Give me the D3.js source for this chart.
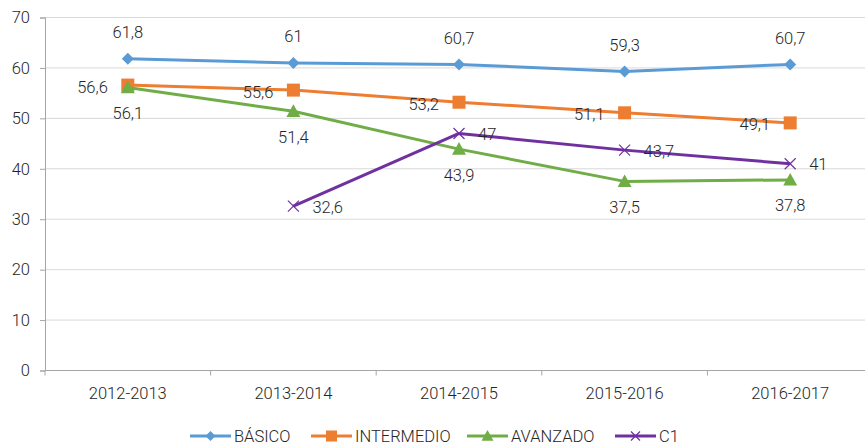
<!DOCTYPE html>
<html>
<head>
<meta charset="utf-8">
<script src="https://cdn.jsdelivr.net/npm/d3@7"></script>
<style>
  html, body { margin: 0; padding: 0; background: #fff; }
  text { font-family: "Roboto", "Open Sans", sans-serif; font-weight: 300; fill: #262626; }
</style>
</head>
<body>
<svg id="chart" width="865" height="445"></svg>
<script>
// Course years and results per level
const categories = ["2012-2013", "2013-2014", "2014-2015", "2015-2016", "2016-2017"];
const basico     = [61.8, 61, 60.7, 59.3, 60.7];
const intermedio = [56.6, 55.6, 53.2, 51.1, 49.1];
const avanzado   = [56.1, 51.4, 43.9, 37.5, 37.8];
const c1         = [null, 32.6, 47, 43.7, 41];
const yTicks     = [0, 10, 20, 30, 40, 50, 60, 70];

const series = [
  { name: "BÁSICO",     values: basico,     color: "#5B9BD5", marker: "diamond",  label: "above" },
  { name: "INTERMEDIO", values: intermedio, color: "#ED7D31", marker: "square",   label: "left"  },
  { name: "AVANZADO",   values: avanzado,   color: "#70AD47", marker: "triangle", label: "below" },
  { name: "C1",         values: c1,         color: "#7030A0", marker: "cross",    label: "right" }
];

const svg = d3.select("#chart");
const plotLeft = 45, plotRight = 873, plotTop = 17.5, plotBottom = 370.5;
const fontSize = "16.5px";

const x = d3.scaleBand().domain(categories).range([plotLeft, plotRight]);
const y = d3.scaleLinear().domain([0, 70]).range([plotBottom, plotTop]);
const cx = c => x(c) + x.bandwidth() / 2;

// Horizontal gridlines
svg.append("g").selectAll("line").data(yTicks.filter(t => t > 0)).join("line")
  .attr("x1", plotLeft).attr("x2", plotRight)
  .attr("y1", d => y(d)).attr("y2", d => y(d))
  .attr("stroke", "#d9d9d9").attr("stroke-width", 1);

// Y axis
const yAxis = svg.append("g").attr("transform", `translate(${plotLeft},0)`)
  .call(d3.axisLeft(y).tickValues(yTicks).tickSize(5).tickPadding(10));
yAxis.select(".domain").attr("stroke", "#a6a6a6");
yAxis.selectAll(".tick line").attr("stroke", "#a6a6a6");
yAxis.selectAll("text").style("font-size", fontSize).style("font-family", null).attr("fill", "#262626");

// X axis with ticks on band boundaries
const xAxis = svg.append("g").attr("transform", `translate(0,${plotBottom})`);
xAxis.append("line").attr("x1", plotLeft).attr("x2", plotRight).attr("stroke", "#a6a6a6");
xAxis.selectAll("line.tk").data(d3.range(categories.length + 1)).join("line")
  .attr("class", "tk")
  .attr("x1", i => plotLeft + i * x.bandwidth()).attr("x2", i => plotLeft + i * x.bandwidth())
  .attr("y1", 0).attr("y2", 5).attr("stroke", "#a6a6a6");
xAxis.selectAll("text").data(categories).join("text")
  .attr("x", d => cx(d)).attr("y", 28)
  .attr("text-anchor", "middle").style("font-size", fontSize)
  .text(d => d);

// Marker shapes
function drawMarker(g, type, color, px, py, s) {
  if (type === "diamond") {
    g.append("path").attr("d", `M${px},${py - s}L${px + s},${py}L${px},${py + s}L${px - s},${py}Z`).attr("fill", color);
  } else if (type === "square") {
    g.append("rect").attr("x", px - s).attr("y", py - s).attr("width", 2 * s).attr("height", 2 * s).attr("fill", color);
  } else if (type === "triangle") {
    g.append("path").attr("d", `M${px},${py - s}L${px + s},${py + s * 0.8}L${px - s},${py + s * 0.8}Z`).attr("fill", color);
  } else {
    g.append("path").attr("d", `M${px - s},${py - s}L${px + s},${py + s}M${px - s},${py + s}L${px + s},${py - s}`)
      .attr("stroke", color).attr("stroke-width", 1.2).attr("fill", "none");
  }
}
const markerSize = { diamond: 6, square: 6.5, triangle: 7, cross: 5.5 };

const line = d3.line()
  .defined(d => d.v !== null)
  .x(d => cx(d.c)).y(d => y(d.v));

series.forEach(s => {
  const pts = categories.map((c, i) => ({ c, v: s.values[i] }));
  const g = svg.append("g");
  g.append("path").datum(pts).attr("d", line)
    .attr("fill", "none").attr("stroke", s.color).attr("stroke-width", 3)
    .attr("stroke-linejoin", "round");
  pts.filter(p => p.v !== null).forEach(p => {
    drawMarker(g, s.marker, s.color, cx(p.c), y(p.v), markerSize[s.marker]);
  });
});

// Data labels
series.forEach(s => {
  const g = svg.append("g");
  categories.forEach((c, i) => {
    const v = s.values[i];
    if (v === null) return;
    const px = cx(c), py = y(v);
    let tx = px, ty = py, anchor = "middle";
    if (s.label === "above") { ty = py - 26; }
    else if (s.label === "below") { ty = py + 26; }
    else if (s.label === "left") { tx = px - 20; ty = py + 2; anchor = "end"; }
    else { tx = px + 19; ty = py + 1; anchor = "start"; }
    g.append("text").attr("x", tx).attr("y", ty)
      .attr("text-anchor", anchor).attr("dominant-baseline", "central")
      .style("font-size", fontSize)
      .text(String(v).replace(".", ","));
  });
});

// Legend
const legendItems = [
  { x: 190, s: series[0] },
  { x: 311, s: series[1] },
  { x: 467, s: series[2] },
  { x: 615, s: series[3] }
];
const lg = svg.append("g").attr("transform", "translate(0,436)");
legendItems.forEach(it => {
  lg.append("line").attr("x1", it.x).attr("x2", it.x + 41).attr("y1", 0).attr("y2", 0)
    .attr("stroke", it.s.color).attr("stroke-width", 3);
  drawMarker(lg, it.s.marker, it.s.color, it.x + 20.5, 0, markerSize[it.s.marker] - 1);
  lg.append("text").attr("x", it.x + 44).attr("y", 0)
    .attr("dominant-baseline", "central").style("font-size", fontSize)
    .text(it.s.name);
});
</script>
</body>
</html>
